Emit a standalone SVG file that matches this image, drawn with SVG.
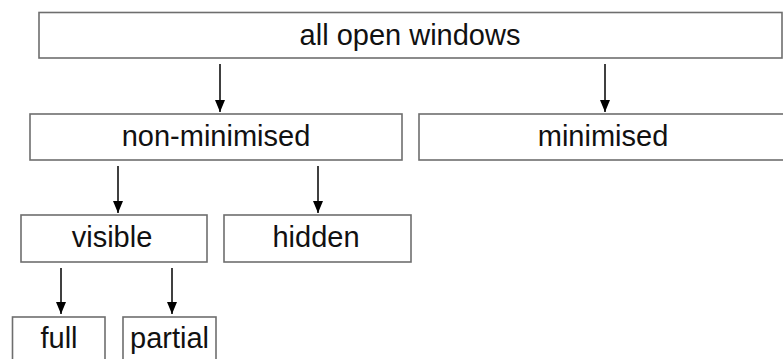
<svg xmlns="http://www.w3.org/2000/svg" width="783" height="359" viewBox="0 0 783 359">
<style>
.box{fill:#fff;stroke:#6e6e6e;stroke-width:1.6}
.lbl{font-family:"Liberation Sans",Arial,sans-serif;font-size:29px;fill:#111;text-anchor:middle}
.conn{stroke:#000;stroke-width:1.5;fill:none;marker-end:url(#ah)}
</style>
<defs>
<marker id="ah" viewBox="0 0 12 10" refX="12" refY="5" markerWidth="12" markerHeight="10" markerUnits="userSpaceOnUse" orient="auto">
<path d="M0,0 L12,5 L0,10 Z" fill="#000"/>
</marker>
</defs>
<rect width="783" height="359" fill="#fff"/>
<g id="connectors">
<line class="conn" x1="220" y1="64" x2="220" y2="112"/>
<line class="conn" x1="605" y1="64" x2="605" y2="112"/>
<line class="conn" x1="118" y1="166" x2="118" y2="213"/>
<line class="conn" x1="318" y1="166" x2="318" y2="213"/>
<line class="conn" x1="61" y1="268" x2="61" y2="314"/>
<line class="conn" x1="172" y1="268" x2="172" y2="314"/>
</g>
<g id="all-open-windows">
<rect class="box" x="39" y="12.5" width="743" height="45.5"/>
<text class="lbl" x="410" y="45">all open windows</text>
</g>
<g id="non-minimised">
<rect class="box" x="30" y="114" width="372" height="46"/>
<text class="lbl" x="216" y="146">non-minimised</text>
</g>
<g id="minimised">
<rect class="box" x="419" y="114" width="370" height="46"/>
<text class="lbl" x="603" y="146">minimised</text>
</g>
<g id="visible">
<rect class="box" x="21" y="215" width="186" height="47"/>
<text class="lbl" x="112" y="247">visible</text>
</g>
<g id="hidden">
<rect class="box" x="224" y="215" width="187" height="47"/>
<text class="lbl" x="316" y="247">hidden</text>
</g>
<g id="full">
<rect class="box" x="12.5" y="317" width="92.5" height="60"/>
<text class="lbl" x="59" y="348">full</text>
</g>
<g id="partial">
<rect class="box" x="123" y="317" width="93" height="60"/>
<text class="lbl" x="169.5" y="348">partial</text>
</g>
</svg>
